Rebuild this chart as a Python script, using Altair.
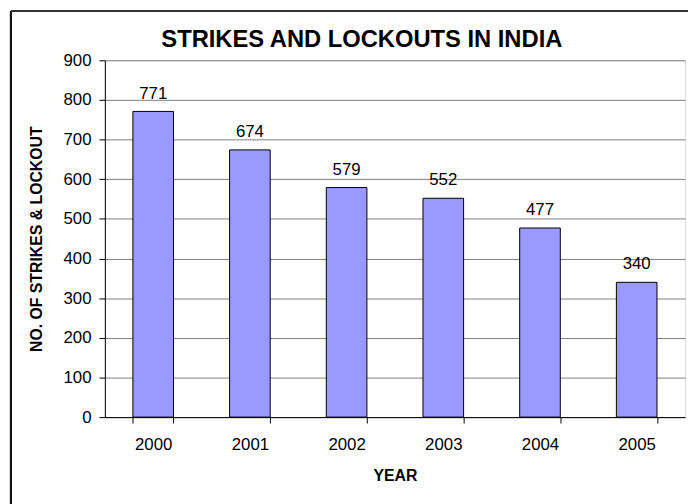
import altair as alt
import pandas as pd

years = ["2000", "2001", "2002", "2003", "2004", "2005"]
values = [771, 674, 579, 552, 477, 340]

title_text = ["STRIKES AND LOCKOUTS IN INDIA"]
x_title = "YEAR"
y_title = "NO. OF STRIKES & LOCKOUT"

df = pd.DataFrame({"year": years, "value": values})
df_title = pd.DataFrame({"t": title_text})

FONT = "Liberation Sans"
W, H = 587, 361

base = alt.Chart(df)

x_enc = alt.X(
    "year:N",
    sort=years,
    scale=alt.Scale(paddingInner=0.58, paddingOuter=0.29),
    axis=alt.Axis(
        title=x_title,
        labelAngle=0,
        labelFont=FONT,
        labelFontSize=17,
        labelColor="#000000",
        labelBaseline="alphabetic",
        labelPadding=27,
        tickBand="extent",
        tickSize=6,
        tickColor="#000000",
        domainColor="#000000",
        titleFont=FONT,
        titleFontSize=16,
        titleFontWeight="bold",
        titleColor="#000000",
        titleX=W / 2,
        titleY=64,
        titleBaseline="alphabetic",
        titleAlign="center",
        grid=False,
    ),
)

y_enc = alt.Y(
    "value:Q",
    scale=alt.Scale(domain=[0, 900], nice=False),
    axis=alt.Axis(
        title=y_title,
        values=list(range(0, 901, 100)),
        labelFont=FONT,
        labelFontSize=17,
        labelColor="#000000",
        labelPadding=8,
        tickSize=6,
        tickColor="#000000",
        domainColor="#000000",
        gridColor="#808080",
        gridWidth=1,
        titleFont=FONT,
        titleFontSize=16,
        titleFontWeight="bold",
        titleColor="#000000",
        titleAngle=-90,
        titleX=-69,
        titleY=H / 2,
        titleAlign="center",
        titleBaseline="middle",
    ),
)

bars = base.mark_bar(color="#9999FF", stroke="#000000", strokeWidth=1).encode(
    x=x_enc, y=y_enc
)

labels = base.mark_text(
    font=FONT, fontSize=17, color="#000000", baseline="alphabetic", dy=-13
).encode(x=alt.X("year:N", sort=years), y="value:Q", text="value:Q")

title_mark = alt.Chart(df_title).mark_text(
    font=FONT, fontSize=24, fontWeight="bold", color="#000000",
    align="center", baseline="alphabetic"
).encode(x=alt.value(260), y=alt.value(-13), text="t:N")

frame_left = base.mark_rule(color="#111111", strokeWidth=2).encode(
    x=alt.value(-95), y=alt.value(-50), y2=alt.value(H + 90)
)
frame_top = base.mark_rule(color="#333333", strokeWidth=2).encode(
    x=alt.value(-95), x2=alt.value(W + 10), y=alt.value(-50)
)

chart = (
    alt.layer(bars, labels, title_mark, frame_left, frame_top)
    .properties(
        width=W,
        height=H,
        autosize=alt.AutoSizeParams(type="none"),
        padding={"left": 98, "top": 50, "right": 3, "bottom": 85},
    )
    .configure_view(stroke="#808080", strokeWidth=1)
    .configure(background="#ffffff")
)

chart.save("out.html", embed_options={"renderer": "svg", "actions": False})
